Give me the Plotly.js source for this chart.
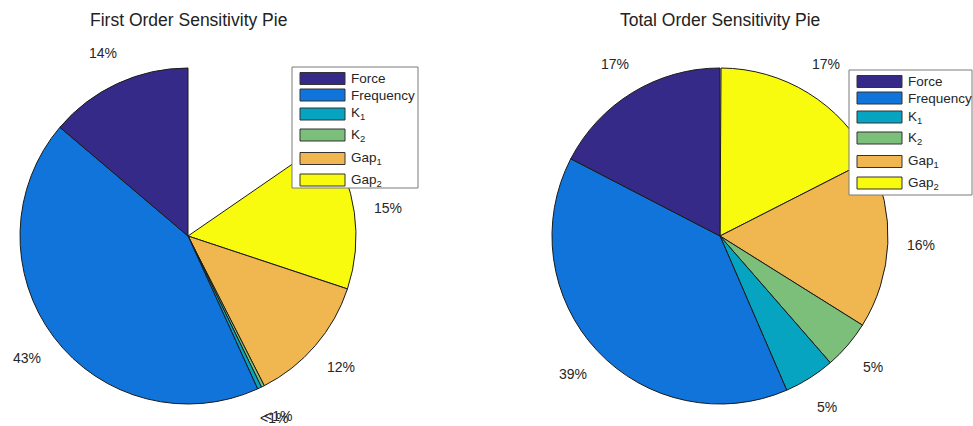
<!DOCTYPE html>
<html>
<head>
<meta charset="utf-8">
<script src="https://cdn.plot.ly/plotly-3.0.1.min.js"></script>
<style>html,body{margin:0;padding:0;background:#fff;}#chart{width:973px;height:426px;}</style>
</head>
<body>
<div id="chart"></div>
<script>
// ---- data ----
const categories = ['Force', 'Frequency', 'K<sub>1</sub>', 'K<sub>2</sub>', 'Gap<sub>1</sub>', 'Gap<sub>2</sub>'];
const firstOrder = [0.138, 0.430, 0.004, 0.003, 0.124, 0.147];   // sums < 1 -> partial pie
const totalOrder = [0.174, 0.391, 0.049, 0.047, 0.164, 0.174];
const sliceColors = ['#352A87', '#1074DA', '#07A4C2', '#7CBF7B', '#F0B650', '#F9FB0E'];
const titles = ['First Order Sensitivity Pie', 'Total Order Sensitivity Pie'];

// ---- layout constants ----
const W = 973, H = 426;
const R = 168;
const centers = [[188, 236], [720, 236]];
const legendBoxes = [[292, 67, 418, 188], [849, 70, 972, 195]];
const legendRowOffsets = [11.5, 28, 47, 68, 91.5, 113];
const font = "'Liberation Sans', Arial, Helvetica, sans-serif";
const txtColor = '#262626';

function pctLabel(v) {
  const p = Math.round(v * 100);
  return p < 1 ? '<1%' : p + '%';
}

// MATLAB draws counterclockwise from 12 o'clock; Plotly clockwise from 12 o'clock
// with the order reversed gives the same arrangement.
function makePie(vals, idx) {
  const sum = vals.reduce((a, b) => a + b, 0);
  let values = vals.slice();
  let colors = sliceColors.slice();
  let widths = vals.map(() => 1);
  let labels = categories.slice();
  if (sum < 1) {
    values.push(1 - sum);
    colors.push('rgba(0,0,0,0)');
    widths.push(0);
    labels.push('rest');
  }
  values = values.reverse(); colors = colors.reverse(); widths = widths.reverse(); labels = labels.reverse();
  const [cx, cy] = centers[idx];
  return {
    type: 'pie',
    values: values,
    labels: labels,
    sort: false,
    direction: 'clockwise',
    rotation: 0,
    textinfo: 'none',
    hoverinfo: 'skip',
    showlegend: false,
    marker: { colors: colors, line: { color: '#1a1a1a', width: widths } },
    domain: { x: [(cx - R) / W, (cx + R) / W], y: [1 - (cy + R) / H, 1 - (cy - R) / H] }
  };
}

const data = [makePie(firstOrder, 0), makePie(totalOrder, 1)];

const annotations = [];
const shapes = [];
[firstOrder, totalOrder].forEach((vals, idx) => {
  const sum = vals.reduce((a, b) => a + b, 0);
  const total = sum < 1 ? 1 : sum;
  const [cx, cy] = centers[idx];
  // percentage labels at 1.2R on mid-angle (counterclockwise from 12 o'clock)
  let cum = 0;
  vals.forEach(v => {
    const f = v / total;
    const mid = cum + f / 2;
    cum += f;
    const th = 2 * Math.PI * mid;
    const px = cx - 1.2 * R * Math.sin(th);
    const py = cy - 1.2 * R * Math.cos(th);
    annotations.push({
      xref: 'paper', yref: 'paper', x: px / W, y: 1 - py / H,
      xanchor: 'center', yanchor: 'middle', showarrow: false,
      text: pctLabel(f), font: { family: font, size: 14, color: txtColor }
    });
  });
  // title
  annotations.push({
    xref: 'paper', yref: 'paper', x: cx / W, y: 1 - 20 / H,
    xanchor: 'center', yanchor: 'middle', showarrow: false,
    text: titles[idx], font: { family: font, size: 17.5, color: '#222' }
  });
  // legend
  const [x0, y0, x1, y1] = legendBoxes[idx];
  shapes.push({
    type: 'rect', xref: 'paper', yref: 'paper', layer: 'above',
    x0: x0 / W, x1: x1 / W, y0: 1 - y1 / H, y1: 1 - y0 / H,
    fillcolor: '#ffffff', line: { color: '#7a7a7a', width: 1 }
  });
  categories.forEach((c, i) => {
    const yc = y0 + legendRowOffsets[i];
    shapes.push({
      type: 'rect', xref: 'paper', yref: 'paper', layer: 'above',
      x0: (x0 + 8) / W, x1: (x0 + 53) / W, y0: 1 - (yc + 6) / H, y1: 1 - (yc - 6) / H,
      fillcolor: sliceColors[i], line: { color: '#333333', width: 1 }
    });
    annotations.push({
      xref: 'paper', yref: 'paper', x: (x0 + 57) / W, y: 1 - yc / H,
      xanchor: 'left', yanchor: 'middle', showarrow: false,
      text: c, font: { family: font, size: 13.5, color: txtColor }
    });
  });
});

const layout = {
  width: W, height: H,
  margin: { l: 0, r: 0, t: 0, b: 0 },
  paper_bgcolor: '#ffffff',
  annotations: annotations,
  shapes: shapes
};

Plotly.newPlot('chart', data, layout, { displayModeBar: false, staticPlot: true });
</script>
</body>
</html>
